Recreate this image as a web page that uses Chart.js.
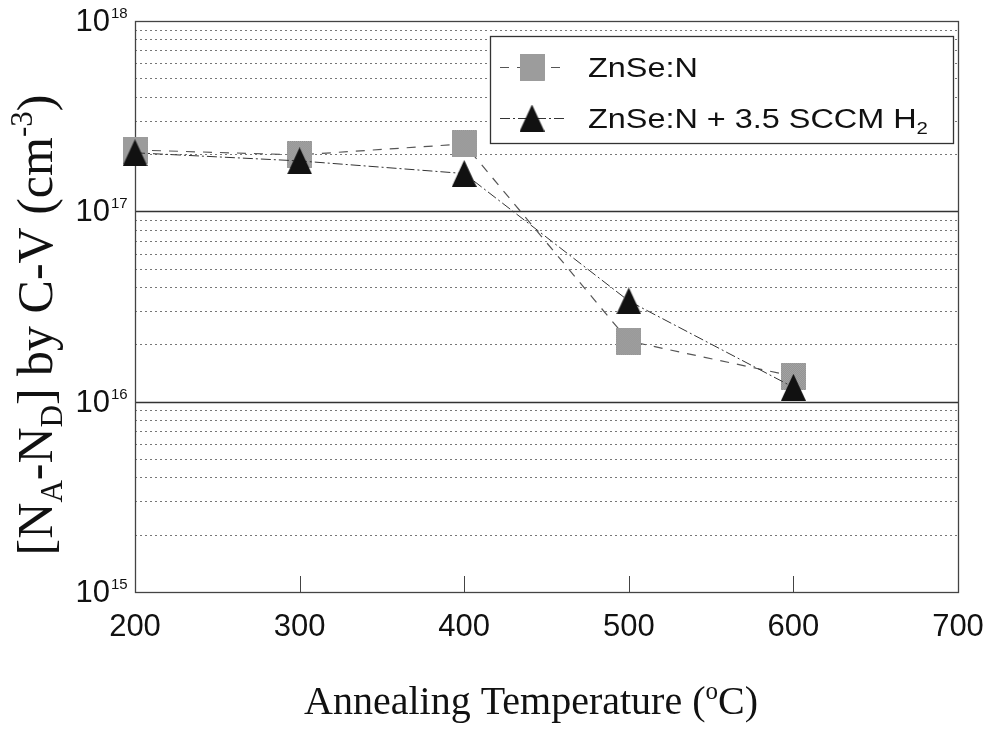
<!DOCTYPE html>
<html>
<head>
<meta charset="utf-8">
<script src="https://cdn.jsdelivr.net/npm/chart.js@4.4.1/dist/chart.umd.min.js"></script>
<style>
  body { margin: 0; background: #fff; }
  canvas { display: block; }
</style>
</head>
<body>
<canvas id="myChart" width="992" height="732"></canvas>
<script>
// annealing temperatures (C)
const temps = [200, 300, 400, 500, 600];
// [NA-ND] by C-V, cm^-3
const znseN = [2.1e17, 1.98e17, 2.26e17, 2.08e16, 1.36e16];
const znseNH2 = [2.03e17, 1.84e17, 1.58e17, 3.38e16, 1.19e16];
const xTicks = [200, 300, 400, 500, 600, 700];
const yDecades = [15, 16, 17, 18];
const seriesNames = ["ZnSe:N", "ZnSe:N + 3.5 SCCM H"];

const SANS = "'Liberation Sans', Arial, sans-serif";
const SERIF = "'Liberation Serif', 'Times New Roman', serif";

// marker images
function makeSquare() {
  const c = document.createElement("canvas");
  c.width = 25; c.height = 27;
  const g = c.getContext("2d");
  for (let i = 0; i < c.width; i++) {
    for (let j = 0; j < c.height; j++) {
      g.fillStyle = (i + j) % 2 ? "#8e8e8e" : "#aaaaaa";
      g.fillRect(i, j, 1, 1);
    }
  }
  return c;
}
function makeTriangle() {
  const c = document.createElement("canvas");
  c.width = 25; c.height = 27;
  const g = c.getContext("2d");
  g.fillStyle = "#111";
  g.beginPath();
  g.moveTo(12.5, 0);
  g.lineTo(25, 27);
  g.lineTo(0, 27);
  g.closePath();
  g.fill();
  return c;
}
const squareImg = makeSquare();
const triImg = makeTriangle();

const dashSq = [9, 8];
const dashTri = [10, 3, 2, 3];

// parts: [text, size, dy, family]
function drawRich(ctx, parts, x, y) {
  let cx = x;
  parts.forEach(p => {
    ctx.font = p[1] + "px " + p[3];
    ctx.fillText(p[0], cx, y + p[2]);
    cx += ctx.measureText(p[0]).width;
  });
  return cx - x;
}
function richWidth(ctx, parts) {
  let w = 0;
  parts.forEach(p => {
    ctx.font = p[1] + "px " + p[3];
    w += ctx.measureText(p[0]).width;
  });
  return w;
}

const decor = {
  id: "decor",
  beforeDatasetsDraw(chart) {
    const { ctx, chartArea: a, scales: { x, y } } = chart;
    ctx.save();
    // minor grid
    ctx.strokeStyle = "#777";
    ctx.lineWidth = 1;
    ctx.setLineDash([2, 3]);
    for (let d = 15; d < 18; d++) {
      for (let m = 2; m <= 9; m++) {
        const py = Math.round(y.getPixelForValue(m * Math.pow(10, d))) + 0.5;
        ctx.beginPath();
        ctx.moveTo(a.left, py);
        ctx.lineTo(a.right, py);
        ctx.stroke();
      }
    }
    ctx.setLineDash([]);
    // major grid
    ctx.strokeStyle = "#333";
    ctx.lineWidth = 1.3;
    [1e16, 1e17].forEach(v => {
      const py = Math.round(y.getPixelForValue(v)) + 0.5;
      ctx.beginPath();
      ctx.moveTo(a.left, py);
      ctx.lineTo(a.right, py);
      ctx.stroke();
    });
    // frame
    ctx.strokeStyle = "#444";
    ctx.lineWidth = 1.3;
    ctx.strokeRect(a.left + 0.5, a.top + 0.5, a.right - a.left, a.bottom - a.top);
    // inward ticks
    ctx.lineWidth = 1;
    xTicks.slice(1, -1).forEach(v => {
      const px = Math.round(x.getPixelForValue(v)) + 0.5;
      ctx.beginPath();
      ctx.moveTo(px, a.bottom);
      ctx.lineTo(px, a.bottom - 16);
      ctx.stroke();
    });
    // legend box
    const L = { x: 490, y: 36, w: 463, h: 107 };
    ctx.fillStyle = "#fff";
    ctx.fillRect(L.x, L.y, L.w, L.h);
    ctx.strokeStyle = "#333";
    ctx.lineWidth = 1.3;
    ctx.strokeRect(L.x + 0.5, L.y + 0.5, L.w, L.h);
    const rows = [67, 118];
    [[dashSq, squareImg, "#555"], [dashTri, triImg, "#333"]].forEach((s, i) => {
      ctx.setLineDash(s[0]);
      ctx.strokeStyle = s[2];
      ctx.lineWidth = 1;
      ctx.beginPath();
      ctx.moveTo(500, rows[i] + 0.5);
      ctx.lineTo(564, rows[i] + 0.5);
      ctx.stroke();
      ctx.setLineDash([]);
      ctx.drawImage(s[1], 532 - s[1].width / 2, rows[i] - s[1].height / 2);
    });
    ctx.fillStyle = "#111";
    ctx.textBaseline = "alphabetic";
    ctx.textAlign = "left";
    // legend text is a bit wide in the original
    const sx = 1.2;
    ctx.translate(588, 0);
    ctx.scale(sx, 1);
    drawRich(ctx, [[seriesNames[0], 27, 0, SANS]], 0, rows[0] + 10);
    drawRich(ctx, [[seriesNames[1], 27, 0, SANS], ["2", 17, 6, SANS]], 0, rows[1] + 10);
    ctx.restore();
  },
  afterDraw(chart) {
    const { ctx, chartArea: a, scales: { x, y } } = chart;
    ctx.save();
    ctx.fillStyle = "#111";
    ctx.textBaseline = "alphabetic";
    // y tick labels with superscript
    yDecades.forEach(d => {
      const py = y.getPixelForValue(Math.pow(10, d));
      ctx.font = "31px " + SANS;
      ctx.textAlign = "right";
      ctx.fillText("10", 110, py + 10);
      ctx.font = "15px " + SANS;
      ctx.textAlign = "left";
      ctx.fillText(String(d), 111, py - 3);
    });
    ctx.textAlign = "left";
    // y title
    const yParts = [
      ["[N", 50, 0, SERIF], ["A", 31, 10, SERIF], ["-N", 50, 0, SERIF], ["D", 31, 10, SERIF],
      ["] by C-V (cm", 50, 0, SERIF], ["-3", 31, -20, SERIF], [")", 50, 0, SERIF]
    ];
    const yw = richWidth(ctx, yParts);
    ctx.translate(52, 325);
    ctx.rotate(-Math.PI / 2);
    drawRich(ctx, yParts, -yw / 2, 0);
    ctx.setTransform(1, 0, 0, 1, 0, 0);
    // x title
    const xParts = [
      ["Annealing Temperature (", 40, 0, SERIF], ["o", 25, -15, SERIF], ["C)", 40, 0, SERIF]
    ];
    const xw = richWidth(ctx, xParts);
    drawRich(ctx, xParts, 531 - xw / 2, 714);
    ctx.restore();
  }
};

const ctx = document.getElementById("myChart");

new Chart(ctx, {
  type: "line",
  data: {
    datasets: [
      {
        label: seriesNames[0],
        data: temps.map((t, i) => ({ x: t, y: znseN[i] })),
        borderColor: "#555",
        borderWidth: 1.2,
        borderDash: dashSq,
        pointStyle: squareImg,
        clip: false,
        order: 2
      },
      {
        label: seriesNames[1] + "2",
        data: temps.map((t, i) => ({ x: t, y: znseNH2[i] })),
        borderColor: "#333",
        borderWidth: 1,
        borderDash: dashTri,
        pointStyle: triImg,
        clip: false,
        order: 1
      }
    ]
  },
  options: {
    responsive: false,
    animation: false,
    devicePixelRatio: 1,
    layout: { padding: { top: 21, right: 34, left: 0, bottom: 0 } },
    plugins: { legend: { display: false }, tooltip: { enabled: false } },
    scales: {
      x: {
        type: "linear",
        min: 200,
        max: 700,
        afterBuildTicks: s => { s.ticks = xTicks.map(v => ({ value: v })); },
        ticks: { color: "#111", font: { family: SANS, size: 31 }, padding: 17, maxRotation: 0 },
        grid: { display: false, drawTicks: false },
        border: { display: false },
        afterFit: s => { s.height = 140; s.paddingLeft = 0; s.paddingRight = 0; }
      },
      y: {
        type: "logarithmic",
        min: 1e15,
        max: 1e18,
        ticks: { display: false },
        grid: { display: false, drawTicks: false },
        border: { display: false },
        afterFit: s => { s.width = 135; s.paddingTop = 0; s.paddingBottom = 0; }
      }
    }
  },
  plugins: [decor]
});
</script>
</body>
</html>
